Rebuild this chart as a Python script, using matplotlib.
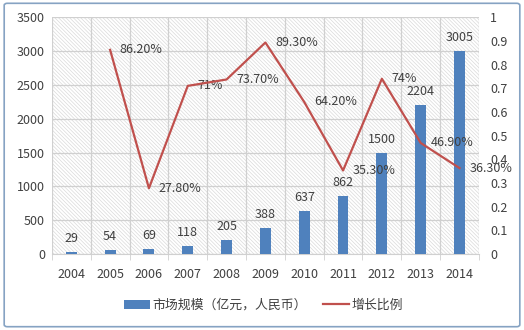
import matplotlib
matplotlib.use('Agg')
import matplotlib.pyplot as plt
from matplotlib.patches import Rectangle, FancyBboxPatch
import numpy as np

plt.rcParams['font.family'] = ['Noto Sans CJK SC', 'DejaVu Sans']
plt.rcParams['hatch.linewidth'] = 0.5

#--------------------- DATA ----------------------------------------------
years = ['2004', '2005', '2006', '2007', '2008', '2009', '2010', '2011', '2012', '2013', '2014']
market_size = [29, 54, 69, 118, 205, 388, 637, 862, 1500, 2204, 3005]
growth_years = ['2005', '2006', '2007', '2008', '2009', '2010', '2011', '2012', '2013', '2014']
growth = [0.862, 0.278, 0.71, 0.737, 0.893, 0.642, 0.353, 0.74, 0.469, 0.363]
growth_labels = ['86.20%', '27.80%', '71%', '73.70%', '89.30%', '64.20%', '35.30%', '74%', '46.90%', '36.30%']
bar_name = '市场规模（亿元，人民币）'
line_name = '增长比例'

#--------------------- FIGURE ----------------------------------------------
bar_color = '#4F81BD'
line_color = '#C0504D'
text_color = '#404040'
fs = 9

fig = plt.figure(figsize=(5.24, 3.30), dpi=100)
ax = fig.add_axes([0.099, 0.230, 0.815, 0.718])
ax2 = ax.twinx()

x = np.arange(len(years))
gx = np.array([years.index(y) for y in growth_years])

# hatched plot background
ax.set_facecolor('white')
ax.add_patch(Rectangle((0, 0), 1, 1, transform=ax.transAxes, facecolor='white',
                       edgecolor='#dadada', linewidth=0, hatch='\\' * 9, zorder=0))

bars = ax.bar(x, market_size, width=0.28, color=bar_color, zorder=3, label=bar_name)
for xi, v in zip(x, market_size):
    ax.annotate(str(v), (xi, v), xytext=(0, 5), textcoords='offset points',
                ha='center', va='bottom', fontsize=fs, color=text_color)

ax.set_xlim(-0.5, len(years) - 0.5)
ax.set_ylim(0, 3500)
ax.set_yticks(np.arange(0, 3501, 500))
ax.set_xticks(x)
ax.set_xticklabels(years)
ax.set_xticks(np.arange(-0.5, len(years), 1), minor=True)
ax.grid(True, which='major', axis='y', color='#d0d0d0', linewidth=0.9, zorder=1)
ax.grid(True, which='minor', axis='x', color='#d0d0d0', linewidth=0.9, zorder=1)
ax.set_axisbelow(True)
ax.tick_params(axis='y', length=0, labelsize=fs, labelcolor=text_color, pad=5)
ax.tick_params(axis='x', which='major', length=0, labelsize=fs, labelcolor=text_color, pad=10)
ax.tick_params(axis='x', which='minor', length=4, color='#d0d0d0')
for s in ['top', 'left', 'right']:
    ax.spines[s].set_visible(False)
ax.spines['bottom'].set_color('#d0d0d0')

line, = ax2.plot(gx, growth, color=line_color, linewidth=1.6, zorder=4, label=line_name)
for xi, v, lab in zip(gx, growth, growth_labels):
    ax2.annotate(lab, (xi, v), xytext=(7, 0), textcoords='offset points',
                 ha='left', va='center', fontsize=fs, color=text_color)
ax2.set_ylim(0, 1)
ax2.set_yticks(np.arange(0, 1.01, 0.1))
ax2.set_yticklabels(['0', '0.1', '0.2', '0.3', '0.4', '0.5', '0.6', '0.7', '0.8', '0.9', '1'])
ax2.tick_params(axis='y', length=0, labelsize=fs, labelcolor=text_color, pad=8)
for s in ax2.spines.values():
    s.set_visible(False)

leg = fig.legend(handles=[bars, line], loc='center', bbox_to_anchor=(0.503, 0.075), ncol=2,
                 frameon=False, fontsize=fs + 0.3, handlelength=2.0, columnspacing=1.3,
                 handletextpad=0.2, labelcolor=text_color)

# outer border
fig.patches.append(FancyBboxPatch((0.008, 0.01), 0.984, 0.98, boxstyle='round,pad=0,rounding_size=0.006',
                                  transform=fig.transFigure, fill=False,
                                  edgecolor='#86a3c3', linewidth=1.2))

fig.savefig('out.png', dpi=100)
